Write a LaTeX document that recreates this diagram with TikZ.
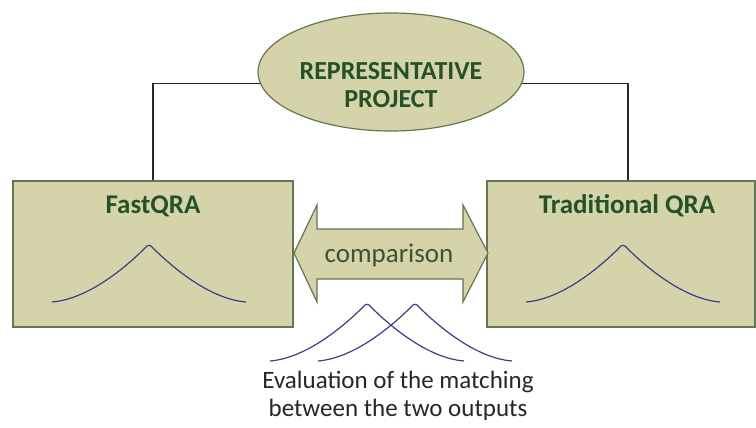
\documentclass[tikz,border=0pt]{standalone}
\usepackage{fontspec}
\setmainfont{Carlito}
\usetikzlibrary{shapes.geometric}
\definecolor{khaki}{RGB}{213,211,170}
\definecolor{olivedge}{RGB}{100,118,82}
\definecolor{titlegreen}{RGB}{36,82,38}
\definecolor{cmpgreen}{RGB}{62,82,50}
\definecolor{curveblue}{RGB}{62,58,140}
\begin{document}
\begin{tikzpicture}[x=1pt,y=-1pt,
  panel/.style={draw=olivedge,line width=1.6pt,fill=khaki,minimum width=#1,minimum height=146,inner sep=0pt},
  title/.style={font=\fontsize{27}{28}\selectfont\bfseries,text=titlegreen,inner sep=0pt},
  link/.style={draw=black!85,line width=1.4pt},
  % peaked distribution: concave flanks joined by a small rounded cap
  bell/.pic={\draw[curveblue,line width=1.2pt]
      (-97,0) .. controls (-60,-3) and (-22,-36) .. (-4,-54)
      .. controls (-1.5,-57.5) and (1.5,-57.5) .. (4,-54)
      .. controls (22,-36) and (60,-3) .. (97,0);}
]
\useasboundingbox (0,0) rectangle (756,428);

% central project ellipse
\node[ellipse,draw=olivedge,line width=1.2pt,fill=khaki,minimum width=266,minimum height=118,inner sep=0pt] (proj) at (391,72) {};
\node[title,font=\fontsize{26}{28}\selectfont\bfseries,align=center] (projT) at (391,85) {REPRESENTATIVE\\PROJECT};

% the two analysis panels
\node[panel=280] (fast) at (153,254) {};
\node[panel=268] (trad) at (621,254) {};
\node[title,anchor=base] (fastT) at (153,213) {FastQRA};
\node[title,anchor=base] (tradT) at (627,213) {Traditional QRA};

% links from the project to each panel
\draw[link] (proj.185) -| (fast.north);
\draw[link] (proj.-5) -| ([xshift=7pt]trad.north);

% distributions inside the panels
\pic (fastBell) at (149,302) {bell};
\pic (tradBell) at (623,302) {bell};

% double-headed comparison arrow
\coordinate (cmpL) at (294,253);
\coordinate (cmpR) at (488,253);
\draw[draw=olivedge,line width=1.2pt,fill=khaki,line join=miter]
  (cmpL) -- (317,205) -- (317,229) -- (463,229) -- (463,205) -- (cmpR)
  -- (463,302) -- (463,279) -- (317,279) -- (317,302) -- cycle;
\node[font=\fontsize{27}{28}\selectfont,text=cmpgreen,inner sep=0pt,anchor=base] (cmp) at (389,262) {comparison};

% overlapping output distributions
\pic (outA) at (367,361) {bell};
\pic (outB) at (415,361) {bell};

\node[font=\fontsize{25}{28}\selectfont,text=black!85,align=center,inner sep=0pt] (eval) at (398,396)
  {Evaluation of the matching\\between the two outputs};
\end{tikzpicture}
\end{document}
